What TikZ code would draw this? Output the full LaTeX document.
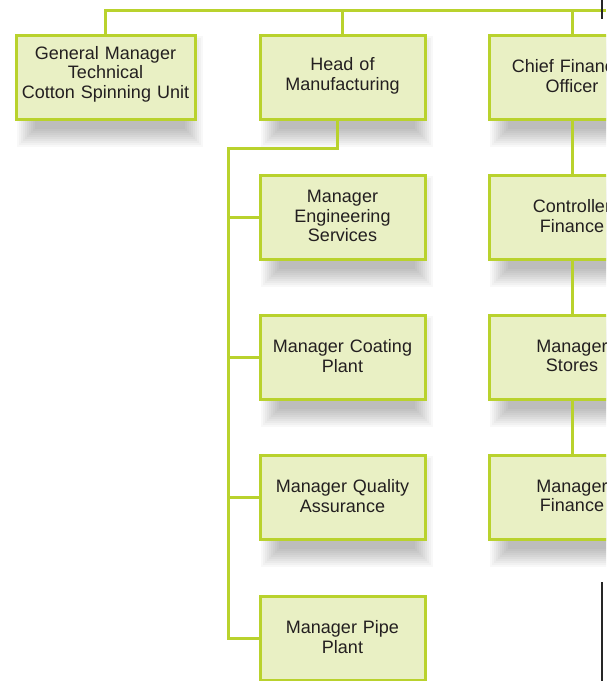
\documentclass[tikz,border=0pt]{standalone}
\usepackage{fontspec}
\setmainfont{Liberation Sans}
\usetikzlibrary{backgrounds}
\definecolor{boxfill}{RGB}{233,240,196}
\definecolor{boxline}{RGB}{185,210,45}
\definecolor{txt}{RGB}{35,31,32}
\newcommand{\softshadow}[1]{%
  \foreach \k in {0,...,9}{%
    \fill[black, opacity=0.028]
      ([xshift={20pt-2*\k pt}, yshift={-8pt-2*\k pt}]#1.south west) rectangle
      ([xshift={-12pt+2*\k pt}, yshift={-20pt+2*\k pt}]#1.north east);
  }}
\begin{document}
\begin{tikzpicture}[x=1pt,y=1pt,
  orgbox/.style={draw=boxline, line width=3pt, fill=boxfill,
    minimum width=165pt, minimum height=84pt, inner sep=0pt,
    text width=160pt, align=center, text=txt,
    font=\fontsize{18}{19.5}\selectfont,
    execute at end node={\endgraf\vspace*{2pt}}},
  conn/.style={draw=boxline, line width=3pt}]
\useasboundingbox (0,-681) rectangle (612,0);
\begin{scope}
\clip (0,-681) rectangle (606,0);
\node[orgbox, minimum width=179pt, text width=176pt] (gm) at (105.5,-77) {General Manager\\Technical\\Cotton Spinning Unit\endgraf\vspace*{4pt}};
\node[orgbox] (hm) at (342.5,-77) {Head of\\Manufacturing};
\node[orgbox] (cfo) at (572,-77) {Chief Financial\\Officer};
\node[orgbox] (mes) at (342.5,-217) {Manager\\Engineering\\Services};
\node[orgbox] (mcp) at (342.5,-357) {Manager Coating\\Plant};
\node[orgbox] (mqa) at (342.5,-497) {Manager Quality\\Assurance};
\node[orgbox] (mpp) at (342.5,-638) {Manager Pipe\\Plant};
\node[orgbox] (cf) at (572,-217) {Controller\\Finance};
\node[orgbox] (ms) at (572,-357) {Manager\\Stores};
\node[orgbox] (mf) at (572,-497) {Manager\\Finance};
\end{scope}
\coordinate (busR) at (606,-10);
\coordinate (spine) at (228,-148);
\begin{pgfonlayer}{background}
\fill[white] (0,-681) rectangle (612,0);
\begin{scope}
\clip (0,-681) rectangle (606,0);
\softshadow{gm}
\softshadow{hm}
\softshadow{cfo}
\softshadow{mes}
\softshadow{mcp}
\softshadow{mqa}
\softshadow{cf}
\softshadow{ms}
\softshadow{mf}
\end{scope}
\draw[conn] (gm.north) |- (busR);
\draw[conn] (hm.north) -- (hm.north |- busR);
\draw[conn] (cfo.north) -- (cfo.north |- busR);
\draw[conn] ([xshift=-5.5pt]hm.south) |- (spine) |- (mpp.west);
\draw[conn] (spine |- mes.west) -- (mes.west);
\draw[conn] (spine |- mcp.west) -- (mcp.west);
\draw[conn] (spine |- mqa.west) -- (mqa.west);
\draw[conn] (cfo.south) -- (cf.north);
\draw[conn] (cf.south) -- (ms.north);
\draw[conn] (ms.south) -- (mf.north);
\end{pgfonlayer}
\coordinate (e1) at (602,0);
\coordinate (e2) at (602,-19);
\coordinate (e3) at (602,-582);
\coordinate (e4) at (602,-681);
\draw[line width=1.5pt, black!85] (e1) -- (e2);
\draw[line width=1.5pt, black!85] (e3) -- (e4);
\end{tikzpicture}
\end{document}
